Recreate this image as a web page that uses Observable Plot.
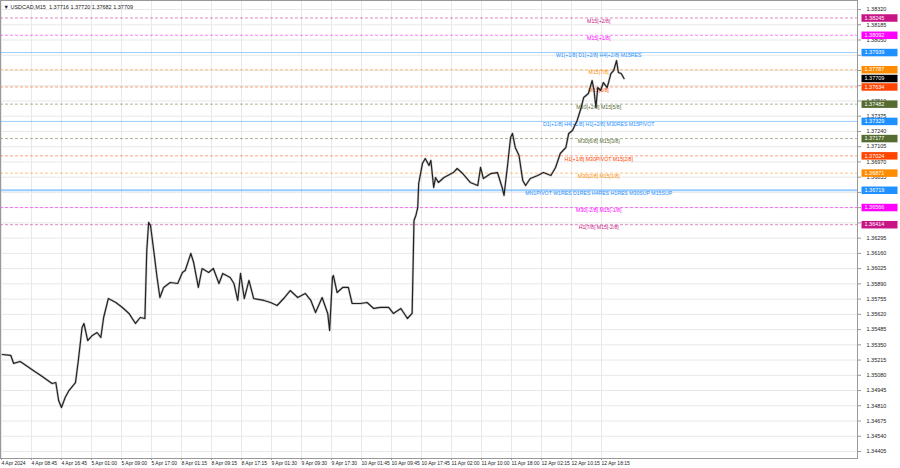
<!DOCTYPE html>
<html><head><meta charset="utf-8">
<script src="https://cdn.jsdelivr.net/npm/d3@7"></script>
<script src="https://cdn.jsdelivr.net/npm/@observablehq/plot@0.6"></script>
<style>body{margin:0;background:#fff;overflow:hidden}</style>
</head><body><div id="chart"></div>
<script>
const header = "\u25BC USDCAD,M15  1.37716 1.37720 1.37682 1.37709";

const bars = [2,11,14,21,35,43,55,59,62,65,69,73,80,83,87,89,93,98,103,107,110,115,123,130,137,144,149,154,156,158,160,163,167,170,174,181,189,194,197,203,206,211,215,222,227,233,237,245,249,253,256,260,265,270,281,288,295,302,309,317,325,331,336,343,349,351,354,355,359,365,371,375,384,391,398,405,414,419,427,434,439,441,443,445,446,450,453,457,459,462,464,467,473,483,487,493,501,509,512,515,523,530,535,537,541,544,546,549,553,557,560,565,573,579,587,592,597,603,606,610,615,619,622,627,631,633,635,637,640,643,647,651,654,657,659,662,665];
const closes = [1.35264,1.35256,1.35185,1.35202,1.35123,1.35078,1.35007,1.35016,1.34857,1.34795,1.34883,1.34945,1.35016,1.35211,1.35503,1.35539,1.35388,1.35433,1.35459,1.35415,1.35592,1.35760,1.35725,1.35681,1.35628,1.35539,1.35592,1.35583,1.36186,1.36434,1.36407,1.36212,1.35946,1.35769,1.35858,1.35902,1.35893,1.35991,1.36008,1.36159,1.36079,1.35858,1.36026,1.35991,1.36026,1.35893,1.35982,1.35946,1.35893,1.35743,1.35982,1.35760,1.35920,1.35760,1.35743,1.35725,1.35698,1.35760,1.35831,1.35769,1.35805,1.35743,1.35636,1.35769,1.35628,1.35477,1.35946,1.35964,1.35813,1.35858,1.35858,1.35716,1.35716,1.35725,1.35672,1.35681,1.35681,1.35628,1.35672,1.35583,1.35628,1.36451,1.36496,1.36566,1.36779,1.36956,1.37000,1.36938,1.36983,1.36744,1.36832,1.36788,1.36832,1.36876,1.36912,1.36867,1.36788,1.36761,1.36921,1.36823,1.36867,1.36876,1.36744,1.36673,1.36956,1.37186,1.37222,1.37098,1.37027,1.36805,1.36761,1.36823,1.36850,1.36876,1.36850,1.36921,1.37045,1.37098,1.37222,1.37248,1.37337,1.37443,1.37541,1.37576,1.37691,1.37603,1.37452,1.37629,1.37603,1.37673,1.37629,1.37753,1.37780,1.37868,1.37762,1.37753,1.37709];

const yTicks = [1.34405,1.34540,1.34675,1.34810,1.34945,1.35080,1.35215,1.35350,1.35485,1.35620,1.35755,1.35890,1.36025,1.36160,1.36295,1.36430,1.36565,1.36700,1.36835,1.36970,1.37105,1.37240,1.37375,1.37510,1.37645,1.37780,1.37915,1.38050,1.38185,1.38320];

const xTickBars = [1,33,65,97,129,161,193,225,257,289,321,353,385,417,449,481,513,545,577,609,641];
const xTickLabels = ["4 Apr 2024","4 Apr 08:45","4 Apr 16:45","5 Apr 01:00","5 Apr 09:00","5 Apr 17:00","8 Apr 01:15","8 Apr 09:15","8 Apr 17:15","9 Apr 01:30","9 Apr 09:30","9 Apr 17:30","10 Apr 01:45","10 Apr 09:45","10 Apr 17:45","11 Apr 02:00","11 Apr 10:00","11 Apr 18:00","12 Apr 02:15","12 Apr 10:15","12 Apr 18:15"];

const levelPrices = [1.38245,1.38092,1.37939,1.37787,1.37634,1.37482,1.37329,1.37177,1.37024,1.36871,1.36719,1.36566,1.36414];
const levelLabels = ["M15[+2/8]","M15[+1/8]","W1[+1/8] D1[+2/8] H4[+2/8] M15RES","M15[7/8]","M15[6/8]","M30[+2/8] M15[5/8]","D1[+1/8] H4[+1/8] H1[+2/8] M30RES M15PIVOT","M30[6/8] M15[3/8]","H1[+1/8] M30PIVOT M15[2/8]","M30[2/8] M15[1/8]","MN1PIVOT W1RES D1RES H4RES H1RES M30SUP M15SUP","M30[-2/8] M15[-1/8]","H1[7/8] M15[-2/8]"];
const levelColors = ["#c71585","#ff00ff","#1e90ff","#ff8c00","#ff4500","#556b2f","#1e90ff","#556b2f","#ff4500","#ff8c00","#1e90ff","#ff00ff","#c71585"];
const levelSolid = [false,false,true,false,false,false,true,false,false,false,true,false,false];
const levelWidth = [1,1,1,1,1,1,1,1,1,1,2,1,1];
const labelBar = 638;
const lastPrice = 1.37709;

const data = bars.map((b,i)=>({bar:b, price:closes[i]}));
const levels = levelPrices.map((p,i)=>({price:p,label:levelLabels[i],color:levelColors[i],solid:levelSolid[i],width:levelWidth[i]}));
const badges = levels.map(d=>({price:d.price,color:d.color})).concat([{price:lastPrice,color:"#000000"}]);
const labelMap = new Map(xTickBars.map((b,i)=>[b,xTickLabels[i]]));
// tick labels that sit completely under a price badge are not visible
const visibleTicks = yTicks.filter(t => !badges.some(b => Math.abs(b.price - t) < 0.00025));

const chart = Plot.plot({
  width:900, height:468,
  marginLeft:0, marginRight:43, marginTop:0, marginBottom:10,
  x:{domain:[0,914], axis:null},
  y:{domain:[1.34343,1.38400], axis:null},
  color:{type:"identity"},
  style:{background:"#fff", fontFamily:"'Liberation Sans', Arial, sans-serif", fontSize:"5.5px", color:"#222"},
  marks:[
    Plot.gridY(yTicks,{stroke:"#e8e8e8", strokeOpacity:1}),
    Plot.gridX(xTickBars,{stroke:"#e8e8e8", strokeOpacity:1}),
    Plot.ruleY(levels.filter(d=>!d.solid),{y:"price", stroke:"color", strokeOpacity:0.5, strokeDasharray:"3,2"}),
    Plot.ruleY(levels.filter(d=>d.solid),{y:"price", stroke:"color", strokeOpacity:0.45, strokeWidth:"width"}),
    Plot.text(levels,{x:()=>labelBar, y:"price", text:"label", fill:"color", dy:3, fontSize:5.2}),
    Plot.line(data,{x:"bar", y:"price", stroke:"#888", strokeWidth:2.4, strokeOpacity:0.4}),
    Plot.line(data,{x:"bar", y:"price", stroke:"#222", strokeWidth:1.2}),
    Plot.frame({stroke:"#999"}),
    Plot.axisY(yTicks,{anchor:"right", label:null, text:null, tickSize:3, stroke:"#999"}),
    Plot.axisY(visibleTicks,{anchor:"right", label:null, tickFormat:d=>d.toFixed(5), tickSize:0, tickPadding:9, fill:"#222"}),
    Plot.axisX(xTickBars,{anchor:"bottom", label:null, tickFormat:d=>labelMap.get(d), textAnchor:"start", tickSize:2, tickPadding:1, fill:"#222", stroke:"#999", fontSize:5}),
    Plot.text(badges,{y:"price", frameAnchor:"right", dx:7, text:d=>d.price.toFixed(5), fill:"white", textAnchor:"start"}),
    Plot.text([header],{frameAnchor:"top-left", dx:3, dy:5, text:d=>d, textAnchor:"start", fill:"#222"})
  ]
});
document.getElementById("chart").appendChild(chart);

// badge backgrounds behind the right-axis price labels (the white text mark)
const badgeTexts = d3.select(chart).selectAll("text").filter(function(){
  let n = this;
  while (n && n !== chart) {
    const f = n.getAttribute && n.getAttribute("fill");
    if (f) return f === "white";
    n = n.parentNode;
  }
  return false;
});
badgeTexts.each(function(_, i){
  const bb = this.getBBox();
  const r = d3.select(this.parentNode).insert("rect", () => this)
    .attr("x", bb.x - 3).attr("y", bb.y - 0.5)
    .attr("width", 36).attr("height", bb.height + 1.5)
    .attr("fill", badges[i] ? badges[i].color : "#000");
  const t = this.getAttribute("transform");
  if (t) r.attr("transform", t);
});
</script>
</body></html>
